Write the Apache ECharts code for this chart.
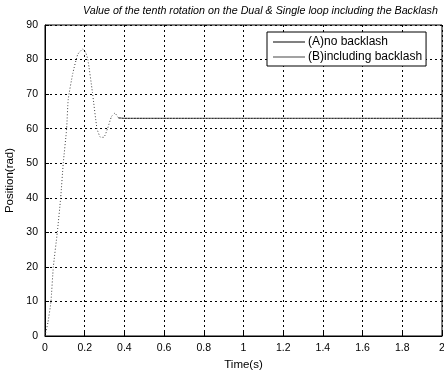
<!DOCTYPE html>
<html>
<head>
<meta charset="utf-8">
<script src="https://cdn.jsdelivr.net/npm/echarts@6/dist/echarts.min.js"></script>
<style>
  html, body { margin: 0; padding: 0; background: #fff; }
  #chart { width: 444px; height: 372px; }
</style>
</head>
<body>
<div id="chart"></div>
<script>
// time (s) and position (rad)
const timeB = [0, 0.015, 0.03, 0.042, 0.062, 0.079, 0.092, 0.109, 0.117, 0.14, 0.165, 0.19, 0.205, 0.216, 0.239, 0.262, 0.28, 0.296, 0.315, 0.335, 0.352, 0.37, 0.4, 0.6, 1, 1.5, 2];
const posB  = [0, 4, 10, 20, 30, 40, 50, 60, 68.5, 76, 81.5, 83, 82, 80, 70.5, 60, 57.5, 57.5, 60, 63.5, 64.5, 63.2, 63, 63, 63, 63, 63];
const timeA = [0.37, 0.4, 1, 1.5, 2];
const posA  = [63.1, 63, 63, 63, 63];
const xTicks = [0, 0.2, 0.4, 0.6, 0.8, 1, 1.2, 1.4, 1.6, 1.8, 2];
const yTicks = [0, 10, 20, 30, 40, 50, 60, 70, 80, 90];

const chart = echarts.init(document.getElementById('chart'));
const font = 'Liberation Sans, Arial, sans-serif';

chart.setOption({
  animation: false,
  title: {
    text: 'Value of the tenth rotation on the Dual & Single loop including the Backlash',
    left: 78, top: 1,
    textStyle: { fontFamily: font, fontSize: 10.7, fontStyle: 'italic', fontWeight: 'normal', color: '#000' },
  },
  legend: {
    orient: 'vertical', left: 267, top: 32,
    backgroundColor: '#fff', borderColor: '#000', borderWidth: 1,
    padding: [4, 4, 3, 6], itemGap: 3,
    itemWidth: 32, itemHeight: 12,
    icon: 'path://M0,0 L32,0 L32,1 L0,1 Z',
    textStyle: { fontFamily: font, fontSize: 12, color: '#000', padding: [0, 0, 0, -2] },
    data: [
      { name: '(A)no backlash', itemStyle: { color: '#000' } },
      { name: '(B)including backlash', itemStyle: { color: '#444' } },
    ],
  },
  grid: {
    left: 45, top: 25, right: 2, bottom: 36, outerBoundsMode: 'none',
    show: true, borderColor: '#000', borderWidth: 1,
  },
  xAxis: {
    type: 'value', min: 0, max: 2, interval: 0.2,
    name: 'Time(s)', nameLocation: 'middle', nameGap: 21,
    nameTextStyle: { fontFamily: font, fontSize: 11.5, color: '#000' },
    axisLine: { lineStyle: { color: '#000' } },
    axisTick: { inside: true, length: 4, lineStyle: { color: '#000' } },
    axisLabel: {
      fontFamily: font, fontSize: 10.5, color: '#000', margin: 7,
      formatter: v => { const t = xTicks.find(x => Math.abs(x - v) < 1e-6); return t === undefined ? '' : String(t); },
    },
    splitLine: { show: true, lineStyle: { color: '#000', type: [2, 3], width: 1 } },
  },
  yAxis: {
    type: 'value', min: 0, max: 90, interval: 10,
    name: 'Position(rad)', nameLocation: 'middle', nameGap: 29,
    nameTextStyle: { fontFamily: font, fontSize: 11.5, color: '#000' },
    axisLine: { show: true, lineStyle: { color: '#000' } },
    axisTick: { show: true, inside: true, length: 4, lineStyle: { color: '#000' } },
    axisLabel: {
      fontFamily: font, fontSize: 10.5, color: '#000', margin: 7,
      formatter: v => yTicks.includes(v) ? String(v) : '',
    },
    splitLine: { show: true, lineStyle: { color: '#000', type: [2, 3], width: 1 } },
  },
  series: [
    {
      name: '(B)including backlash', type: 'line', showSymbol: false, smooth: 0.15,
      data: timeB.map((t, i) => [t, posB[i]]),
      lineStyle: { color: '#444', width: 1, type: [1, 2] },
      itemStyle: { color: '#444' },
    },
    {
      name: '(A)no backlash', type: 'line', showSymbol: false,
      data: timeA.map((t, i) => [t, posA[i]]),
      lineStyle: { color: '#000', width: 1, type: [2, 1] },
      itemStyle: { color: '#000' },
    },
  ],
});
</script>
</body>
</html>
